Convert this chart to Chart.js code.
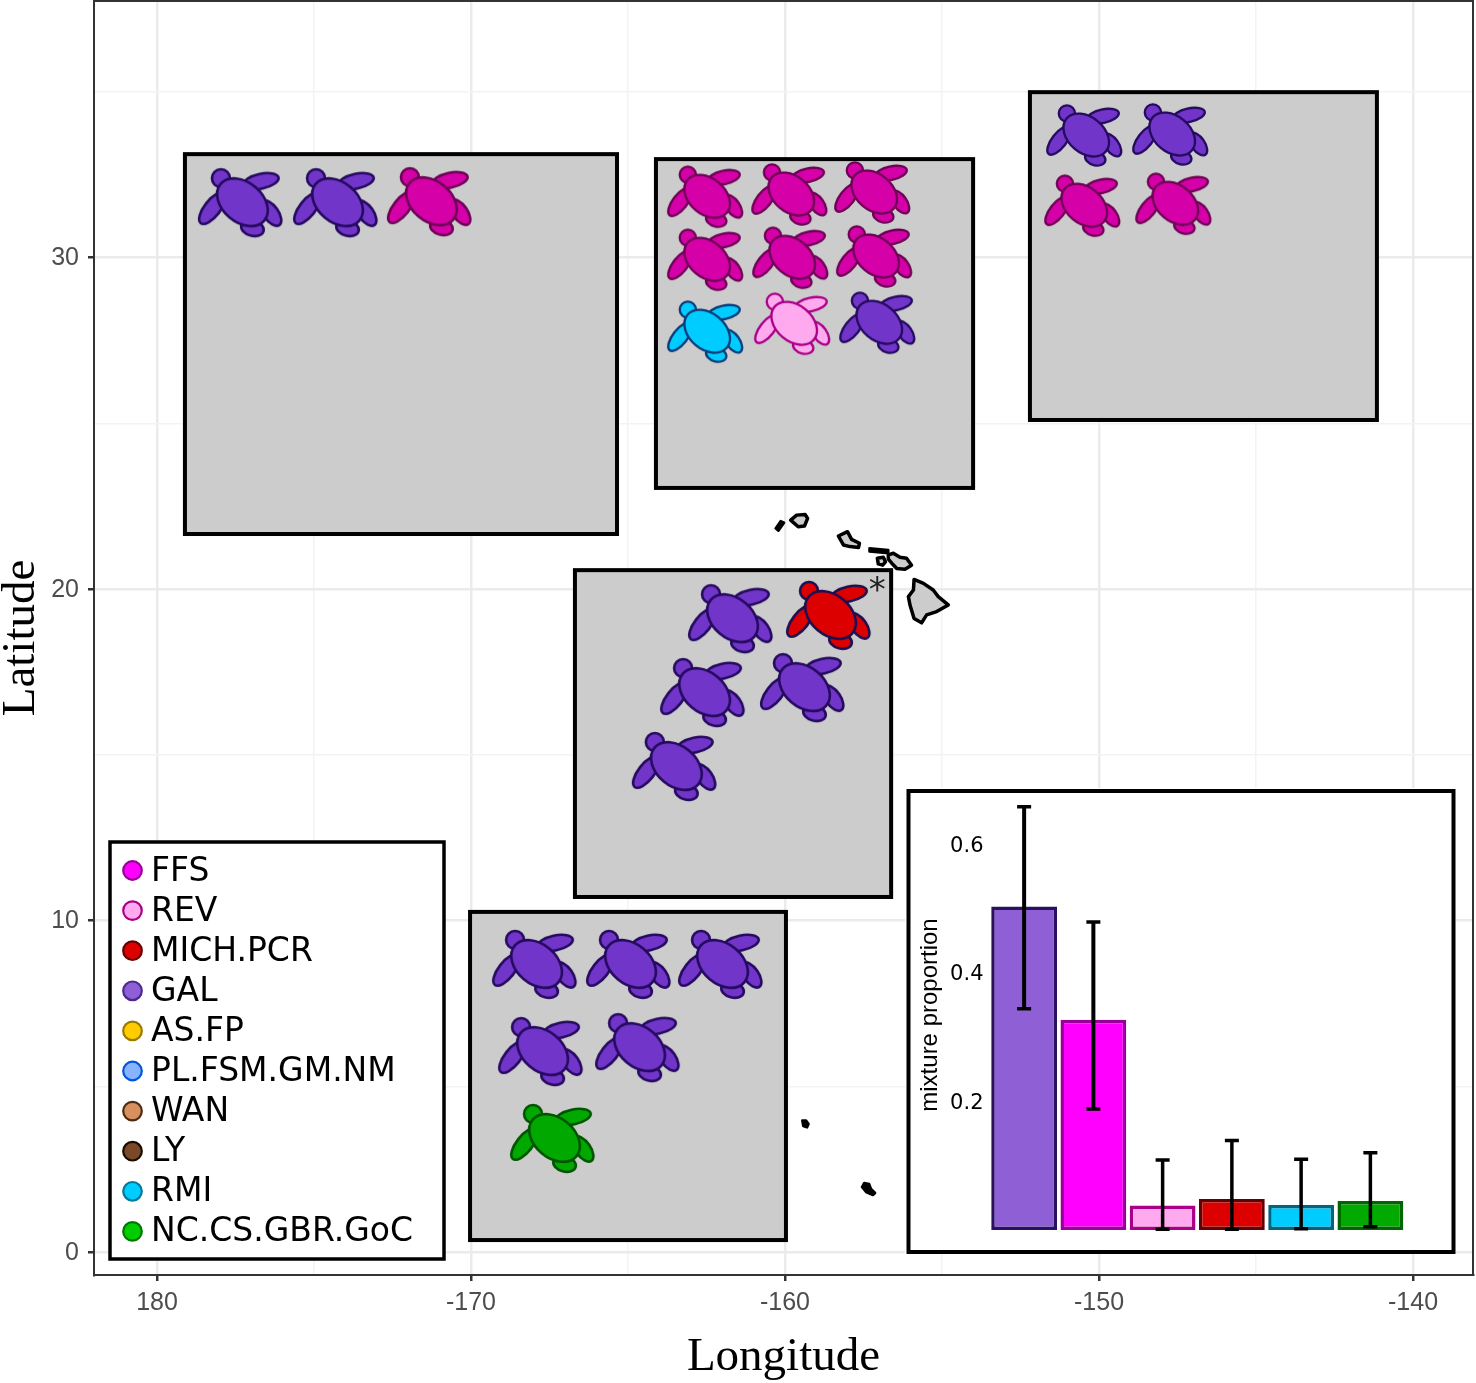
<!DOCTYPE html>
<html><head><meta charset="utf-8">
<style>
html,body{margin:0;padding:0;background:#fff}
#wrap{position:relative;width:1476px;height:1383px;overflow:hidden}
canvas{position:absolute;display:block}
#main{left:0;top:0}
#inset{left:905px;top:788px}
</style>
<script src="https://cdn.jsdelivr.net/npm/chart.js@4"></script>
</head><body>
<div id="wrap">
<canvas id="main" width="1476" height="1383" style="width:1476px;height:1383px"></canvas>
<canvas id="inset" width="551" height="466" style="width:551px;height:466px"></canvas>
</div>
<script>
// ---------- map data (longitude is negative west; 180 = -180) ----------
const xAxisTitle = 'Longitude';
const yAxisTitle = 'Latitude';
const panelLonMin = [-179.11, -164.11, -152.20, -166.69, -170.03];
const panelLonMax = [-165.35, -154.01, -141.15, -156.62, -159.97];
const panelLatMin = [21.66, 23.05, 25.10, 10.71, 0.36];
const panelLatMax = [33.12, 32.97, 34.99, 20.57, 10.26];

const stockNames = ['FFS','REV','MICH.PCR','GAL','AS.FP','PL.FSM.GM.NM','WAN','LY','RMI','NC.CS.GBR.GoC'];
// turtles per stock: [longitude, latitude, panel uses small turtle (1) or not (0)]
const ffsTurtles = [[-171.34,31.67,0],[-162.55,31.82,1],[-159.87,31.89,1],[-157.23,31.95,1],[-162.55,29.92,1],[-159.84,29.98,1],[-157.17,30.02,1],[-150.54,31.55,1],[-147.64,31.61,1]];
const revTurtles = [[-159.78,27.99,1]];
const michTurtles = [[-158.63,19.19,0]];
const galTurtles = [[-177.36,31.64,0],[-174.33,31.64,0],[-157.07,28.02,1],[-150.48,33.67,1],[-147.74,33.70,1],[-161.75,19.09,0],[-162.64,16.86,0],[-159.46,17.01,0],[-163.54,14.63,0],[-167.99,8.66,0],[-165.00,8.66,0],[-162.07,8.66,0],[-167.80,6.03,0],[-164.71,6.15,0]];
const rmiTurtles = [[-162.55,27.75,1]];
const ncTurtles = [[-167.42,3.41,0]];
const stockTurtles = [ffsTurtles, revTurtles, michTurtles, galTurtles, [], [], [], [], rmiTurtles, ncTurtles];

const asteriskLon = -157.06, asteriskLat = 19.91;

const islandsGrey = [
 [[-155.89,20.29],[-155.59,20.17],[-155.28,19.97],[-155.12,19.77],[-154.80,19.52],[-155.17,19.32],[-155.49,19.22],[-155.65,18.98],[-155.89,19.11],[-156.02,19.52],[-156.07,19.77],[-155.91,19.97]],
 [[-156.71,21.03],[-156.55,21.08],[-156.34,20.96],[-156.13,20.93],[-155.97,20.72],[-156.18,20.60],[-156.44,20.62],[-156.60,20.78],[-156.71,20.90]],
 [[-157.06,20.93],[-156.87,20.96],[-156.80,20.82],[-156.89,20.72],[-157.03,20.76]],
 [[-158.30,21.60],[-158.01,21.73],[-157.88,21.50],[-157.63,21.38],[-157.66,21.25],[-157.93,21.28],[-158.14,21.33]],
 [[-159.82,22.08],[-159.63,22.23],[-159.36,22.25],[-159.28,22.13],[-159.38,21.90],[-159.58,21.88]]
];
const islandsBlack = [
 [[-157.31,21.23],[-156.71,21.18],[-156.71,21.08],[-157.31,21.13]],
 [[-160.30,21.83],[-160.14,22.05],[-160.03,22.00],[-160.21,21.76]],
 [[-159.45,3.97],[-159.33,3.97],[-159.25,3.86],[-159.30,3.76],[-159.42,3.80]],
 [[-157.55,1.96],[-157.48,2.08],[-157.32,2.05],[-157.26,1.90],[-157.13,1.78],[-157.20,1.72],[-157.42,1.81]]
];

// ---------- inset data ----------
const insetCategories = ['GAL','FFS','REV','MICH.PCR','RMI','NC.CS.GBR.GoC'];
const insetValues = [0.503, 0.327, 0.038, 0.048, 0.039, 0.045];
const insetLow  = [0.344, 0.188, 0.001, 0.001, 0.002, 0.005];
const insetHigh = [0.658, 0.479, 0.109, 0.139, 0.110, 0.120];
const insetTicks = [0.2, 0.4, 0.6];
const insetTitle = 'mixture proportion';

// ---------- styles ----------
const legendFill   = ['#ff00ff','#ffaaee','#dd0000','#8f60d5','#ffcc00','#88b4ff','#d9905f','#7a4a28','#00ccff','#00cc00'];
const legendStroke = ['#990099','#aa0088','#660000','#4a2a90','#997a00','#0055dd','#4d2c12','#1a0d00','#007a99','#007700'];
const turtleFill   = ['#d500a8','#ffaaee','#dd0000','#7235c9','#ffcc00','#88b4ff','#d9905f','#7a4a28','#00ccff','#00a800'];
const turtleStroke = ['#6e0055','#aa0088','#1e0f50','#250a60','#997a00','#0055dd','#4d2c12','#1a0d00','#0a3c7a','#005500'];
const insetFill    = ['#8f60d5','#ff00ff','#ffaaee','#dd0000','#00ccff','#00aa00'];
const insetStroke  = ['#2a1060','#990099','#aa0088','#660000','#006680','#006600'];

// turtle sprite used as the scatter point style
function ell(c, x, y, a, b, deg, fill, stroke, lw){
  c.beginPath(); c.ellipse(x, y, a, b, deg*Math.PI/180, 0, Math.PI*2);
  c.fillStyle = fill; c.fill(); c.lineWidth = lw; c.strokeStyle = stroke; c.stroke();
}
const spriteCache = {};
function turtleSprite(i, small){
  const key = i+'_'+small;
  if (spriteCache[key]) return spriteCache[key];
  const k = small ? 0.9 : 1;
  const W = Math.round(100*k), H = Math.round(84*k);
  const cv = document.createElement('canvas'); cv.width = W; cv.height = H;
  const c = cv.getContext('2d');
  c.translate(W/2, H/2); c.scale(k, k);
  const f = turtleFill[i], s = turtleStroke[i], lw = 2.6;
  ell(c, 12.5, 25, 11.5, 7.5, 15, f, s, lw);
  ell(c, 31, 10, 14.5, 7.5, 55, f, s, lw);
  ell(c, 21, -22, 18, 7.5, -12, f, s, lw);
  ell(c, -27.5, 5, 19, 8, -52, f, s, lw);
  ell(c, -19, -25, 9, 9, 0, f, s, lw);
  ell(c, 2.5, -1, 28.5, 20, 40, f, s, lw);
  return spriteCache[key] = cv;
}

function poly(c, sx, sy, pts){
  c.beginPath();
  pts.forEach((p, i) => { const x = sx.getPixelForValue(p[0]), y = sy.getPixelForValue(p[1]); i ? c.lineTo(x, y) : c.moveTo(x, y); });
  c.closePath();
}
function zeroPadding(s){ s.paddingTop = 0; s.paddingBottom = 0; s.paddingLeft = 0; s.paddingRight = 0; }

const mapLayers = {
  id: 'mapLayers',
  beforeDatasetsDraw(chart){
    const c = chart.ctx, sx = chart.scales.x, sy = chart.scales.y, a = chart.chartArea;
    c.save();
    c.strokeStyle = '#333'; c.lineWidth = 2;
    c.strokeRect(a.left, a.top, a.right - a.left, a.bottom - a.top);
    c.lineJoin = 'round';
    islandsGrey.forEach(p => { poly(c, sx, sy, p); c.fillStyle = '#cccccc'; c.fill(); c.strokeStyle = '#000'; c.lineWidth = 3.5; c.stroke(); });
    islandsBlack.forEach(p => { poly(c, sx, sy, p); c.fillStyle = '#000'; c.fill(); c.strokeStyle = '#000'; c.lineWidth = 2.5; c.stroke(); });
    c.lineJoin = 'miter';
    panelLonMin.forEach((_, i) => {
      const l = sx.getPixelForValue(panelLonMin[i]), r = sx.getPixelForValue(panelLonMax[i]);
      const t = sy.getPixelForValue(panelLatMax[i]), b = sy.getPixelForValue(panelLatMin[i]);
      c.fillStyle = '#cccccc'; c.fillRect(l, t, r - l, b - t);
      c.strokeStyle = '#000'; c.lineWidth = 4; c.strokeRect(l, t, r - l, b - t);
    });
    c.restore();
  },
  afterDatasetsDraw(chart){
    const c = chart.ctx, sx = chart.scales.x, sy = chart.scales.y;
    c.save();
    c.fillStyle = '#222'; c.font = '34px "DejaVu Sans"'; c.textAlign = 'center'; c.textBaseline = 'middle';
    c.fillText('*', sx.getPixelForValue(asteriskLon), sy.getPixelForValue(asteriskLat));
    // legend box
    const L = 110, T = 842, R = 444, B = 1259;
    c.fillStyle = '#fff'; c.fillRect(L, T, R - L, B - T);
    c.strokeStyle = '#000'; c.lineWidth = 3.5; c.strokeRect(L, T, R - L, B - T);
    c.textAlign = 'left'; c.font = '33px "DejaVu Sans"';
    chart.data.datasets.forEach((d, i) => {
      const y = 870.5 + i*40.1;
      c.beginPath(); c.arc(132.5, y, 9.3, 0, Math.PI*2);
      c.fillStyle = legendFill[i]; c.fill(); c.lineWidth = 2.2; c.strokeStyle = legendStroke[i]; c.stroke();
      c.fillStyle = '#000'; c.fillText(d.label, 151, y + 1.5);
    });
    c.restore();
  }
};

new Chart(document.getElementById('main'), {
  type: 'scatter',
  data: { datasets: stockNames.map((name, i) => ({
    label: name,
    data: stockTurtles[i].map(t => ({x: t[0], y: t[1], small: t[2]})),
    pointStyle: ctx => turtleSprite(i, ctx.raw ? ctx.raw.small : 0),
    pointRadius: 20,
    clip: false
  })) },
  options: {
    responsive: false, animation: false, devicePixelRatio: 1, events: [],
    layout: { autoPadding: false, padding: { top: 1, right: 3, left: 0, bottom: 0 } },
    plugins: { legend: { display: false }, tooltip: { enabled: false } },
    scales: {
      x: {
        type: 'linear', min: -182.006, max: -138.09,
        afterFit(s){ s.height = 108; zeroPadding(s); },
        grid: {
          color: c => c.tick && c.tick.value % 10 === 0 ? '#ebebeb' : '#f3f3f3',
          lineWidth: c => c.tick && c.tick.value % 10 === 0 ? 2.5 : 1.5,
          tickColor: c => c.tick && c.tick.value % 10 === 0 ? '#333' : 'transparent',
          tickLength: 6
        },
        border: { display: true, color: '#333', width: 2 },
        ticks: { stepSize: 5, includeBounds: false, autoSkip: false, maxRotation: 0, padding: 7,
          color: '#4d4d4d', font: { family: '"Liberation Sans"', size: 25 },
          callback: v => v % 10 === 0 ? String(v === -180 ? 180 : v) : '' },
        title: { display: true, text: xAxisTitle, color: '#000', padding: { top: 0, bottom: 2 },
          font: { family: '"Liberation Serif"', size: 47, lineHeight: 1 } }
      },
      y: {
        type: 'linear', min: -0.694, max: 37.74,
        afterFit(s){ s.width = 94; zeroPadding(s); },
        grid: {
          color: c => c.tick && c.tick.value % 10 === 0 ? '#ebebeb' : '#f3f3f3',
          lineWidth: c => c.tick && c.tick.value % 10 === 0 ? 2.5 : 1.5,
          tickColor: c => c.tick && c.tick.value % 10 === 0 ? '#333' : 'transparent',
          tickLength: 6
        },
        border: { display: true, color: '#333', width: 2 },
        ticks: { stepSize: 5, includeBounds: false, autoSkip: false, padding: 9, labelOffset: 1,
          color: '#4d4d4d', font: { family: '"Liberation Sans"', size: 25 },
          callback: v => v % 10 === 0 ? String(v) : '' },
        title: { display: true, text: yAxisTitle, color: '#000', padding: { top: -2, bottom: 0 },
          font: { family: '"Liberation Serif"', size: 47, lineHeight: 1 } }
      }
    }
  },
  plugins: [mapLayers]
});

// ---------- inset ----------
const insetLayers = {
  id: 'insetLayers',
  beforeDraw(chart){
    const c = chart.ctx; c.save();
    c.fillStyle = '#fff'; c.fillRect(0, 0, chart.width, chart.height);
    c.restore();
  },
  afterDatasetsDraw(chart){
    const c = chart.ctx, sy = chart.scales.y, meta = chart.getDatasetMeta(0);
    c.save(); c.strokeStyle = '#000';
    meta.data.forEach((bar, i) => {
      const x = bar.x, hi = sy.getPixelForValue(insetHigh[i]), lo = sy.getPixelForValue(insetLow[i]);
      c.lineWidth = i < 2 ? 4 : 3.5;
      c.beginPath(); c.moveTo(x, hi); c.lineTo(x, lo); c.stroke();
      c.lineWidth = 3.5;
      c.beginPath(); c.moveTo(x - 7, hi); c.lineTo(x + 7, hi); c.moveTo(x - 7, lo); c.lineTo(x + 7, lo); c.stroke();
    });
    c.strokeStyle = '#000'; c.lineWidth = 4; c.strokeRect(3.5, 3, chart.width - 6, chart.height - 5);
    c.restore();
  }
};
new Chart(document.getElementById('inset'), {
  type: 'bar',
  data: { labels: insetCategories, datasets: [{
    data: insetValues, backgroundColor: insetFill, borderColor: insetStroke, borderWidth: 3.5,
    borderSkipped: false, barPercentage: 0.95, categoryPercentage: 1
  }] },
  options: {
    responsive: false, animation: false, devicePixelRatio: 1, events: [],
    layout: { autoPadding: false, padding: { top: 12, bottom: 24, left: 0, right: 51 } },
    plugins: { legend: { display: false }, tooltip: { enabled: false } },
    scales: {
      x: { display: false },
      y: {
        min: 0, max: 0.6685,
        afterFit(s){ s.width = 84.5; zeroPadding(s); },
        afterBuildTicks(s){ s.ticks = insetTicks.map(v => ({value: v})); },
        grid: { display: false, drawTicks: false, tickLength: 0 }, border: { display: false },
        ticks: { color: '#000', padding: 6, labelOffset: 2, font: { family: '"DejaVu Sans"', size: 21 }, callback: v => v.toFixed(1) },
        title: { display: true, text: insetTitle, color: '#000', padding: { top: 13, bottom: 0 },
          font: { family: '"Liberation Sans"', size: 24, lineHeight: 1 } }
      }
    }
  },
  plugins: [insetLayers]
});
</script>
</body></html>
